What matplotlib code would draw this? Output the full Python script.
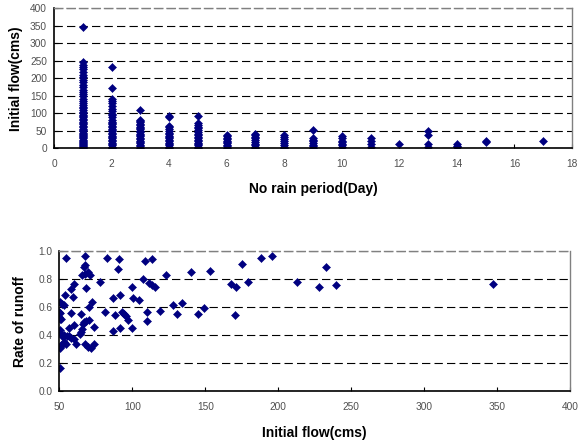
import matplotlib
matplotlib.use("Agg")
import matplotlib.pyplot as plt

plt.rcParams['font.family'] = ['Liberation Sans', 'DejaVu Sans']
plt.rcParams['lines.scale_dashes'] = False

# ---- Top chart: No rain period (day) vs Initial flow (cms) ----
day1 = [347, 245, 238, 233, 226, 219, 210, 203, 195, 188, 181, 174, 167, 160, 154, 148, 141,
        135, 129, 124, 119, 114, 110, 105, 100, 96, 92, 88, 84, 80, 76, 72, 68, 64, 60, 56, 52,
        48, 45, 42, 38, 35, 32, 28, 25, 22, 19, 16, 13, 10, 7, 4, 2]
day2 = [233, 171, 141, 136, 128, 120, 113, 106, 99, 94, 88, 82, 76, 72, 68, 64, 60, 56, 52, 48,
        44, 40, 36, 32, 28, 24, 20, 16, 12, 8, 5, 2]
day3 = [110, 82, 78, 74, 70, 66, 62, 58, 54, 50, 46, 42, 38, 34, 30, 26, 22, 18, 14, 10, 6, 2]
day4 = [93, 89, 65, 60, 55, 50, 45, 40, 36, 32, 28, 24, 20, 16, 12, 8, 4, 1]
day5 = [93, 72, 67, 62, 57, 52, 47, 42, 37, 32, 28, 24, 20, 16, 12, 8, 4, 1]
day6 = [38, 34, 30, 26, 22, 18, 14, 10, 6, 2]
day7 = [42, 38, 33, 28, 23, 18, 13, 9, 5, 2]
day8 = [37, 32, 26, 20, 15, 10, 5, 2]
day9 = [52, 30, 25, 20, 15, 10, 6, 2]
day10 = [35, 28, 22, 17, 12, 8, 4]
day11 = [28, 20, 12, 5]
day12 = [11]
day13 = [48, 38, 11, 5]
day14 = [12, 7, 3]
day15 = [22, 17]
day17 = [20]

period_groups = {1: day1, 2: day2, 3: day3, 4: day4, 5: day5, 6: day6, 7: day7, 8: day8,
                 9: day9, 10: day10, 11: day11, 12: day12, 13: day13, 14: day14, 15: day15,
                 17: day17}

# ---- Bottom chart: Initial flow (cms) vs Rate of runoff ----
init_flow = [50.5, 54.5, 67.8, 82.5, 90.9, 108.4, 113.4, 67.4, 66.8, 90.4, 65.5, 67.8, 69.5, 71.2,
             78.1, 107.2, 111.6, 113.2, 115.5, 99.9, 68.2, 60.1, 57.9, 54.0, 59.5, 50.5, 51.7, 53.0,
             72.7, 70.2, 86.9, 91.8, 100.2, 104.8, 122.8, 140.2, 153.2, 175.3, 187.9, 195.9, 212.6,
             179.5, 167.8, 171.2, 127.6, 134.2, 149.3, 119.0, 130.4, 145.2, 170.5, 110.3, 109.8,
             81.2, 88.0, 93.2, 94.3, 95.6, 96.8, 49.8, 50.8, 49.9, 51.5, 50.7, 57.8, 65.1, 68.0,
             67.0, 66.0, 70.0, 73.6, 86.7, 91.6, 99.9, 59.8, 56.6, 50.5, 65.3, 64.8, 64.3, 51.5,
             53.3, 52.2, 55.0, 56.8, 58.0, 60.2, 61.4, 51.5, 50.6, 52.6, 53.3, 54.5, 67.6, 69.9,
             71.7, 73.5, 227.9, 232.5, 239.3, 346.8]
runoff_rate = [0.17, 0.955, 0.97, 0.955, 0.948, 0.93, 0.948, 0.905, 0.885, 0.873, 0.83, 0.836,
               0.852, 0.828, 0.783, 0.802, 0.771, 0.762, 0.745, 0.745, 0.74, 0.77, 0.732, 0.69,
               0.671, 0.64, 0.625, 0.616, 0.64, 0.602, 0.67, 0.69, 0.666, 0.65, 0.83, 0.85, 0.86,
               0.907, 0.95, 0.97, 0.78, 0.783, 0.764, 0.748, 0.617, 0.629, 0.593, 0.574, 0.552,
               0.552, 0.545, 0.564, 0.505, 0.564, 0.545, 0.569, 0.55, 0.535, 0.51, 0.569, 0.557,
               0.53, 0.52, 0.515, 0.562, 0.55, 0.502, 0.493, 0.479, 0.51, 0.459, 0.432, 0.455,
               0.455, 0.474, 0.455, 0.438, 0.445, 0.425, 0.41, 0.41, 0.403, 0.386, 0.395, 0.393,
               0.383, 0.374, 0.336, 0.331, 0.312, 0.34, 0.35, 0.336, 0.336, 0.319, 0.307, 0.336,
               0.747, 0.886, 0.759, 0.766]

W, H = 578, 443
fig = plt.figure(figsize=(W / 100, H / 100), dpi=100)

navy = '#000080'
tick_color = '#505050'


def style(ax, xlim, ylim, xticks, yticks, yfmt):
    ax.set_xlim(*xlim)
    ax.set_ylim(*ylim)
    ax.set_xticks(xticks)
    ax.set_yticks(yticks)
    ax.set_yticklabels([yfmt(v) for v in yticks])
    ax.tick_params(axis='both', labelsize=7.3, labelcolor=tick_color, direction='in',
                   length=3, width=0.8, color='black')
    ax.tick_params(axis='x', pad=8)
    ax.tick_params(axis='y', pad=5)
    for s in ['left', 'bottom']:
        ax.spines[s].set_color('black')
        ax.spines[s].set_linewidth(1.2)
    ax.spines['right'].set_color('#808080')
    ax.spines['right'].set_linewidth(1.0)
    ax.spines['top'].set_color('#808080')
    ax.spines['top'].set_linewidth(1.0)
    ax.spines['top'].set_linestyle((0, (6.0, 3.0)))
    ax.yaxis.grid(True, color='black', linewidth=0.8, linestyle=(0, (6.0, 3.0)))
    ax.set_axisbelow(True)


# top axes
ax1 = fig.add_axes([54 / W, 1 - 148.3 / H, (572 - 54) / W, (148.3 - 8.2) / H])
for d, vals in period_groups.items():
    ax1.plot([d] * len(vals), vals, linestyle='none', marker='D', ms=3.9,
             color=navy, mec=navy, mew=0.4)
style(ax1, (0, 18), (0, 400), list(range(0, 19, 2)), list(range(0, 401, 50)), lambda v: f"{v}")
ax1.set_xlabel('No rain period(Day)', fontsize=10, fontweight='bold', labelpad=9)
ax1.set_ylabel('Initial flow(cms)', fontsize=10, fontweight='bold', labelpad=5)

# bottom axes
ax2 = fig.add_axes([59.3 / W, 1 - 391.3 / H, (570.3 - 59.3) / W, (391.3 - 251.3) / H])
ax2.plot(init_flow, runoff_rate, linestyle='none', marker='D', ms=3.9,
         color=navy, mec=navy, mew=0.4)
style(ax2, (50, 400), (0, 1.0), list(range(50, 401, 50)),
      [0.0, 0.2, 0.4, 0.6, 0.8, 1.0], lambda v: f"{v:.1f}")
ax2.set_xlabel('Initial flow(cms)', fontsize=10, fontweight='bold', labelpad=10)
ax2.set_ylabel('Rate of runoff', fontsize=10, fontweight='bold', labelpad=8)

fig.savefig('out.png', dpi=100)
